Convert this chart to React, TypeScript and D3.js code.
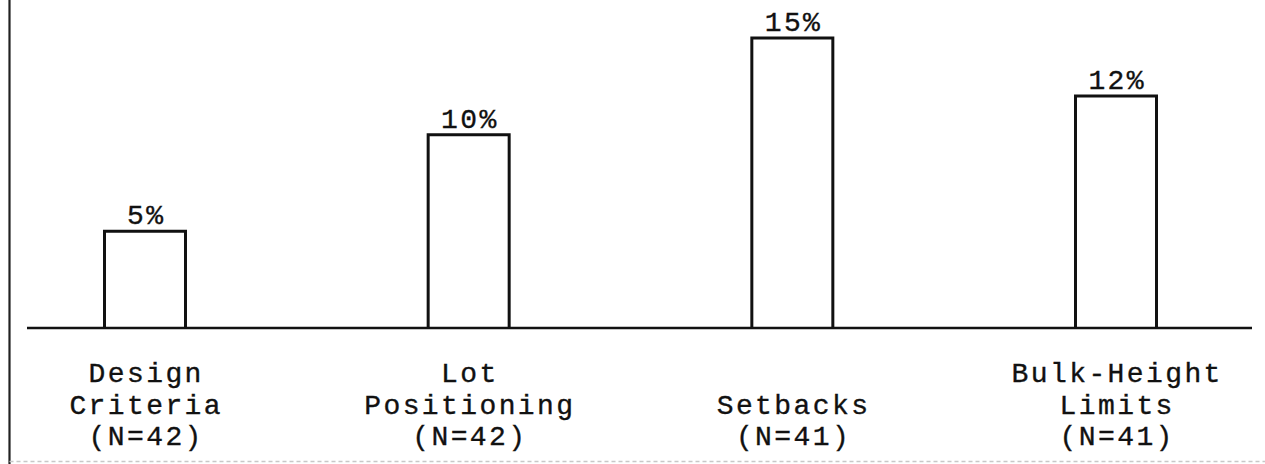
import React from "react";
import * as d3 from "d3";

const categories: string[][] = [
  ["Design", "Criteria", "(N=42)"],
  ["Lot", "Positioning", "(N=42)"],
  ["Setbacks", "(N=41)"],
  ["Bulk-Height", "Limits", "(N=41)"],
];
const categoryKeys = ["Design Criteria", "Lot Positioning", "Setbacks", "Bulk-Height Limits"];
const values = [5, 10, 15, 12];
const valueLabels = ["5%", "10%", "15%", "12%"];

const W = 1265;
const H = 464;
const FONT = "'Courier New', 'Liberation Mono', 'DejaVu Sans Mono', monospace";
const FS = 28;
const LS = 2.4;

export default function App() {
  const x = d3.scalePoint<string>().domain(categoryKeys).range([145, 1116]);
  const y = d3.scaleLinear().domain([0, 15]).range([328, 38]);
  const barW = 81;

  const textProps = {
    fontFamily: FONT,
    fontSize: FS,
    letterSpacing: LS,
    fill: "#111",
    stroke: "#111",
    strokeWidth: 0.35,
    textAnchor: "middle" as const,
  };

  return (
    <svg
      width={W}
      height={H}
      style={{ position: "absolute", left: 0, top: 0, background: "#fff" }}
    >
      <rect x={0} y={0} width={W} height={H} fill="#fff" />
      {/* frame */}
      <line x1={9.5} y1={0} x2={9.5} y2={H} stroke="#222" strokeWidth={2.2} />
      <line x1={9.5} y1={461.5} x2={W} y2={461.5} stroke="#c8c8c8" strokeWidth={1.5} strokeDasharray="4 3" />
      {/* bars */}
      {categoryKeys.map((k, i) => {
        const cx = x(k)!;
        const top = y(values[i]);
        const base = y(0);
        const x0 = cx - barW / 2;
        const x1 = cx + barW / 2;
        return (
          <g key={k}>
            <path
              d={`M${x0},${base} L${x0},${top} L${x1},${top} L${x1},${base}`}
              fill="none"
              stroke="#111"
              strokeWidth={3}
              strokeLinejoin="miter"
            />
            <text x={cx + LS / 2} y={top - 7} {...textProps}>
              {valueLabels[i]}
            </text>
            {categories[i].map((line, j) => {
              const n = categories[i].length;
              const baseY = 445 - (n - 1 - j) * 31.5;
              return (
                <text key={j} x={cx + LS / 2} y={baseY} {...textProps}>
                  {line}
                </text>
              );
            })}
          </g>
        );
      })}
      {/* baseline */}
      <line x1={27} y1={y(0)} x2={1252} y2={y(0)} stroke="#111" strokeWidth={2.6} />
    </svg>
  );
}
